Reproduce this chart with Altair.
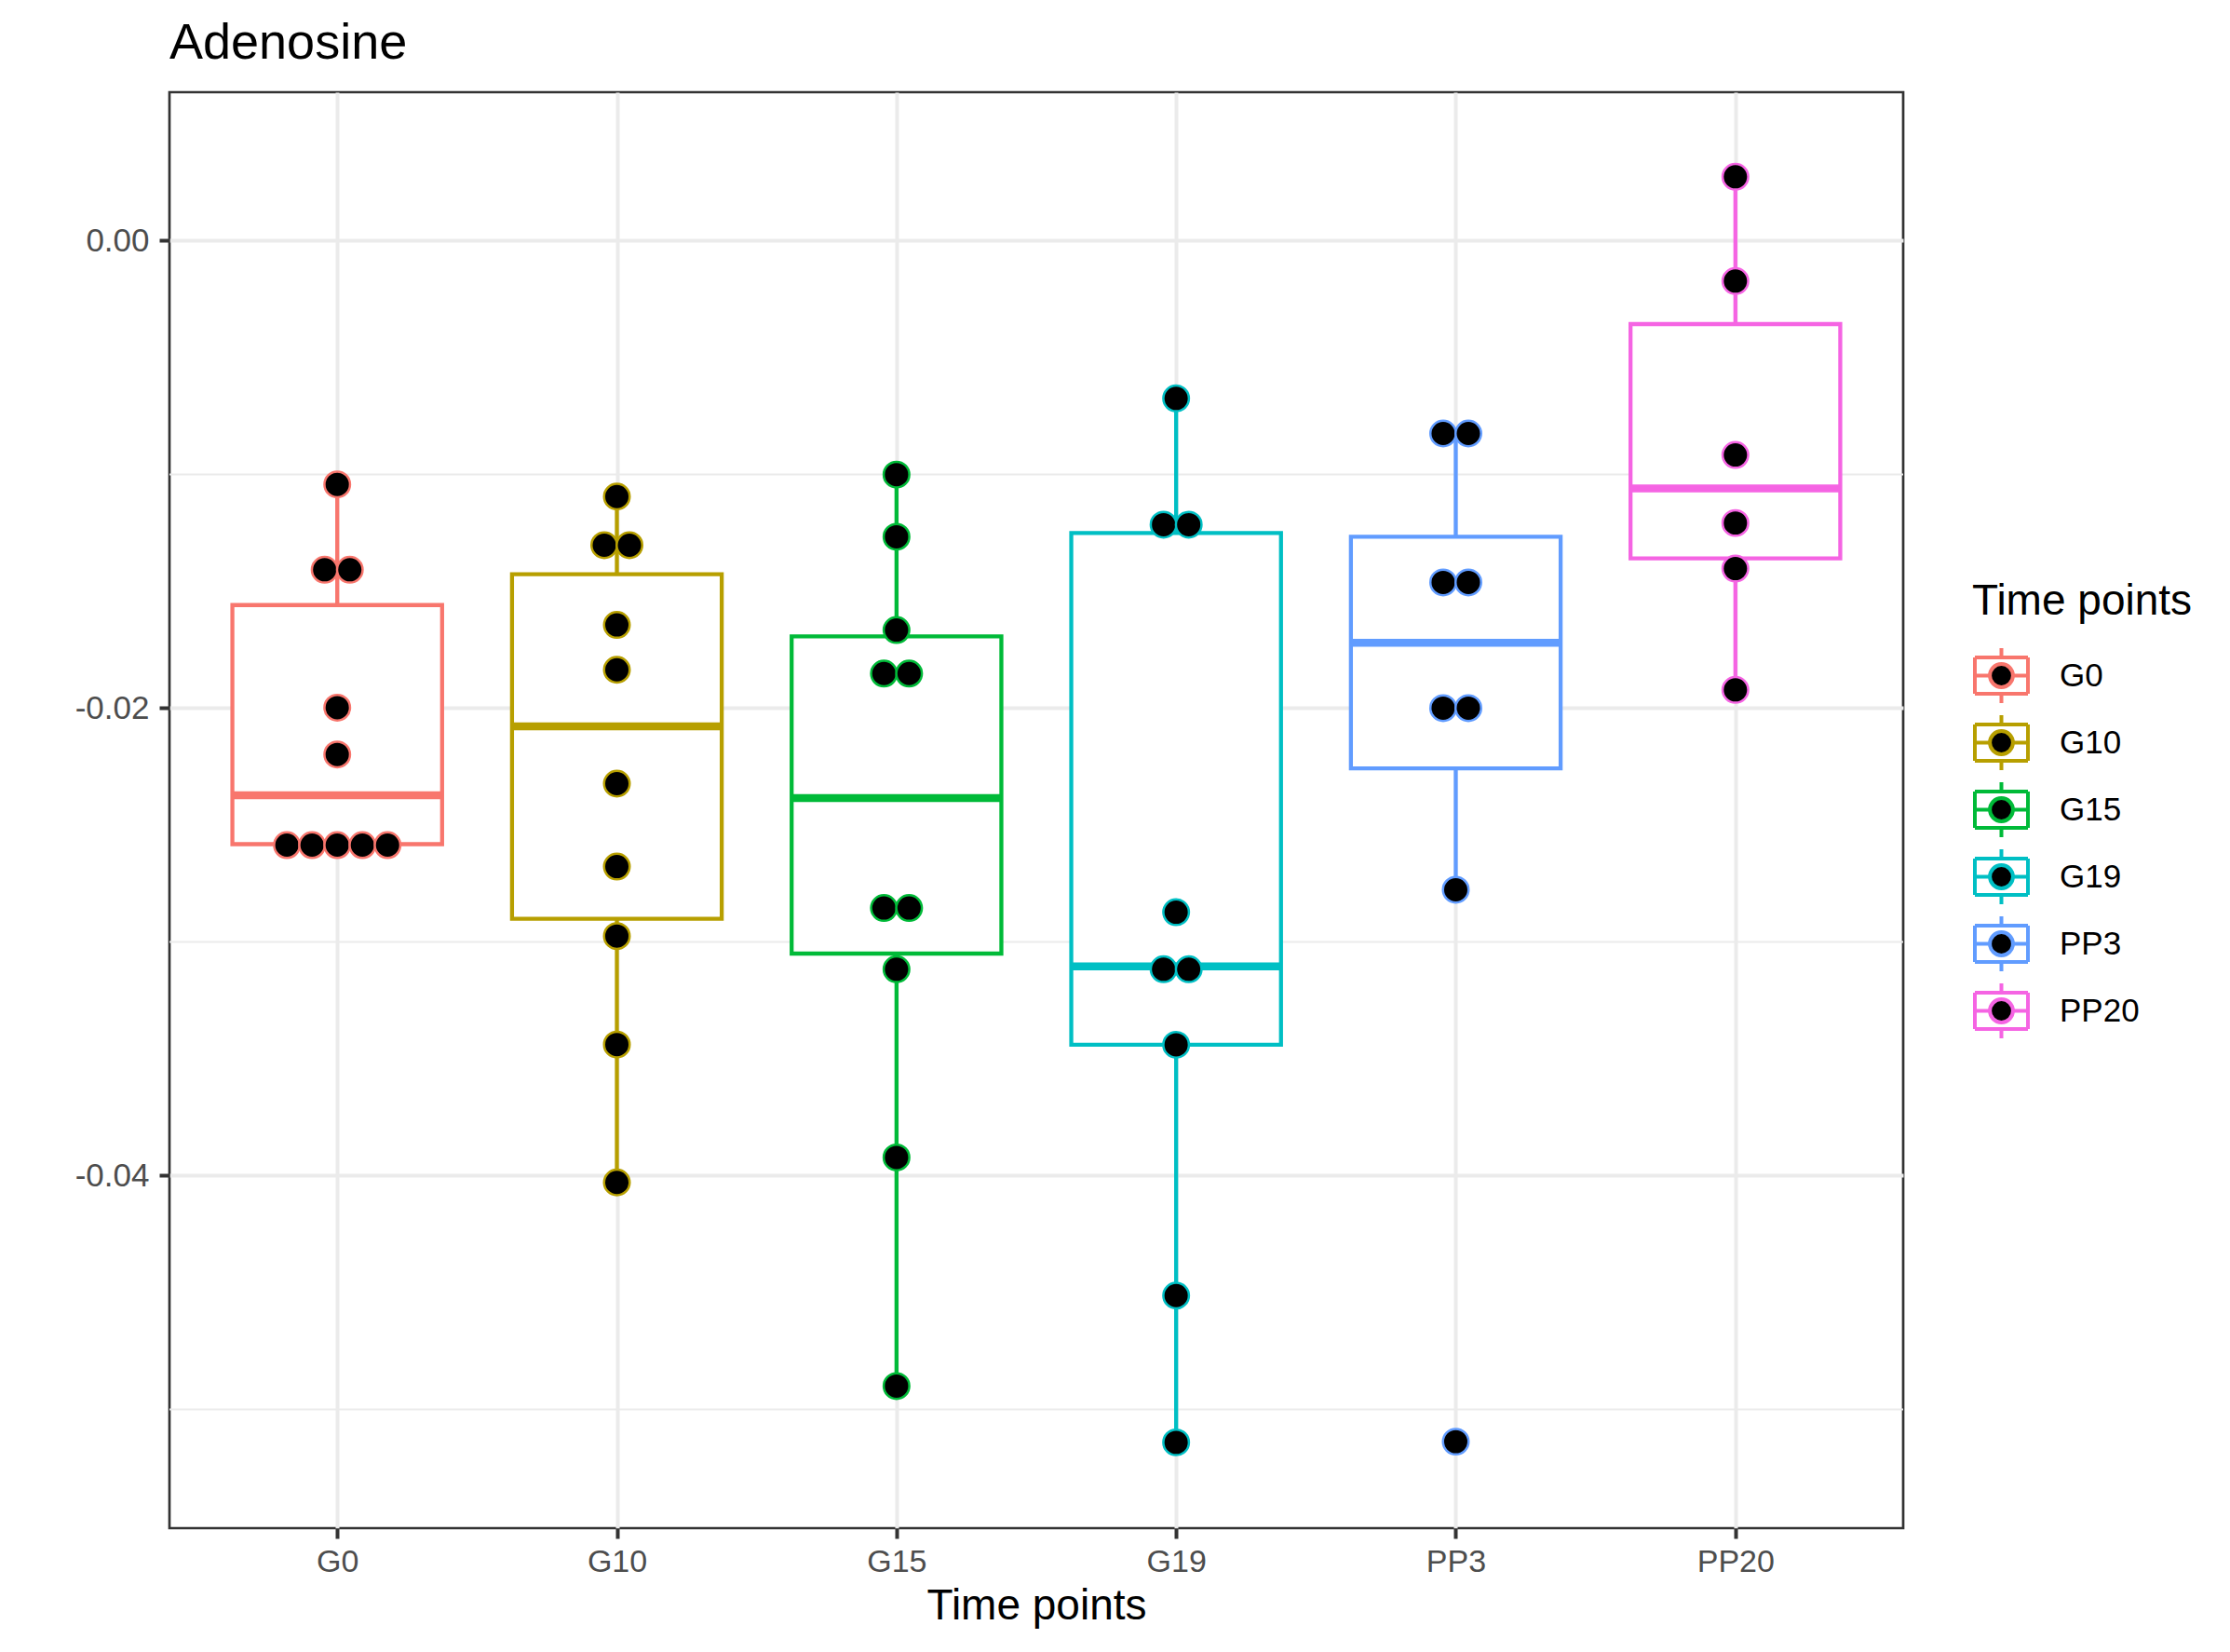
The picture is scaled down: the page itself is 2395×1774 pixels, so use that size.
import json
import altair as alt
import pandas as pd

# ---------------- data ----------------
categories = ["G0", "G10", "G15", "G19", "PP3", "PP20"]
colors = ["#F8766D", "#B79F00", "#00BA38", "#00BFC4", "#619CFF", "#F564E3"]

g0_values = [-0.01043, -0.01408, -0.01408, -0.01998, -0.02198,
             -0.02586, -0.02586, -0.02586, -0.02586, -0.02586]
g10_values = [-0.01095, -0.01303, -0.01303, -0.01644, -0.01836,
              -0.02323, -0.02678, -0.02975, -0.03439, -0.04029]
g15_values = [-0.01001, -0.01267, -0.01666, -0.01852, -0.01852,
              -0.02855, -0.02855, -0.03117, -0.03922, -0.04900]
g19_values = [-0.00675, -0.01215, -0.01215, -0.02873, -0.03117,
              -0.03117, -0.03440, -0.04513, -0.05141]
pp3_values = [-0.00825, -0.00825, -0.01462, -0.01462, -0.02000,
              -0.02000, -0.02777, -0.05138]
pp20_values = [0.00273, -0.00173, -0.00917, -0.01208, -0.01403, -0.01922]

box_q1 = [-0.02582, -0.02901, -0.03050, -0.03440, -0.02258, -0.01359]
box_median = [-0.02373, -0.02078, -0.02385, -0.03105, -0.01720, -0.01060]
box_q3 = [-0.01559, -0.01427, -0.01693, -0.01251, -0.01267, -0.00357]
whisker_low = [-0.02582, -0.04029, -0.04900, -0.05141, -0.02777, -0.01922]
whisker_high = [-0.01043, -0.01095, -0.01001, -0.00675, -0.00825, 0.00273]

major_ticks = [-0.04, -0.02, 0.0]
minor_grid = [-0.05, -0.03, -0.01]

# ---------------- tables ----------------
all_values = [g0_values, g10_values, g15_values, g19_values, pp3_values, pp20_values]
rows = []
for i, (cat, vals) in enumerate(zip(categories, all_values)):
    for v in vals:
        rows.append({"tp": cat, "idx": i, "value": v})
points_df = pd.DataFrame(rows)

stats_df = pd.DataFrame({
    "tp": categories,
    "idx": list(range(len(categories))),
    "q1": box_q1, "med": box_median, "q3": box_q3,
    "lo": whisker_low, "hi": whisker_high,
})
minor_df = pd.DataFrame({"y": minor_grid})

FONT = "Liberation Sans"

y_scale = alt.Scale(domain=[-0.05508, 0.00635], nice=False, zero=False)
x_scale = alt.Scale(domain=[-0.6, len(categories) - 0.4], nice=False, zero=False)
stroke_scale = alt.Scale(domain=categories, range=colors)

x_axis = alt.Axis(
    values=list(range(len(categories))),
    labelExpr=json.dumps(categories) + "[datum.value]",
    title="Time points",
    grid=True, gridColor="#EBEBEB", gridWidth=4,
    domain=False, ticks=True, tickSize=11, tickWidth=4, tickColor="#333333",
    labelFontSize=34, labelColor="#4D4D4D", labelPadding=8, labelFont=FONT,
    titleFontSize=46, titleColor="black", titleFontWeight="normal",
    titlePadding=8, titleFont=FONT,
)
y_axis = alt.Axis(
    values=major_ticks,
    labelExpr="datum.value == 0 ? '0.00' : '-' + format(abs(datum.value), '.2f')",
    title=None,
    grid=True, gridColor="#EBEBEB", gridWidth=4,
    domain=False, ticks=True, tickSize=11, tickWidth=4, tickColor="#333333",
    labelFontSize=35, labelColor="#4D4D4D", labelPadding=11, labelFont=FONT,
)

legend_symbol = (
    "M -0.966 -0.66 L 0.966 -0.66 "
    "M 0.966 -0.66 L 0.966 0.66 "
    "M 0.966 0.66 L -0.966 0.66 "
    "M -0.966 0.66 L -0.966 -0.66 "
    "M 0 -1 L 0 -0.66 M 0 0.66 L 0 1 "
    "M -0.966 0 L -0.44 0 M 0.44 0 L 0.966 0 "
    "M 0.42 0 A 0.42 0.42 0 1 1 -0.42 0 A 0.42 0.42 0 1 1 0.42 0 Z"
)

legend = alt.Legend(
    title="Time points", orient="none", legendX=1936, legendY=525,
    symbolType=legend_symbol, symbolSize=3481, symbolStrokeWidth=4,
    symbolFillColor="black", symbolOpacity=1,
    titleFontSize=46, titleFontWeight="normal", titleColor="black", titleFont=FONT,
    titleLimit=600, labelLimit=400,
    labelFontSize=35, labelColor="black", labelFont=FONT, labelOffset=31,
    rowPadding=-3, titlePadding=24, padding=0,
)

# ---------------- layers ----------------
minor = alt.Chart(minor_df).mark_rule(color="#EBEBEB", strokeWidth=2).encode(
    y=alt.Y("y:Q", scale=y_scale, axis=y_axis),
)

stats = alt.Chart(stats_df).transform_calculate(
    xl="datum.idx - 0.375", xr="datum.idx + 0.375"
)

whiskers = stats.mark_rule(strokeWidth=4.3).encode(
    x=alt.X("idx:Q", scale=x_scale, axis=x_axis),
    y=alt.Y("lo:Q", scale=y_scale, axis=y_axis),
    y2="hi:Q",
    stroke=alt.Stroke("tp:N", scale=stroke_scale, legend=None),
)

boxes = stats.mark_bar(fill="white", strokeWidth=4.3, strokeJoin="miter").encode(
    x=alt.X("xl:Q", scale=x_scale, axis=x_axis),
    x2="xr:Q",
    y=alt.Y("q1:Q", scale=y_scale, axis=y_axis),
    y2="q3:Q",
    stroke=alt.Stroke("tp:N", scale=stroke_scale, legend=None),
)

medians = stats.mark_rule(strokeWidth=8.5, strokeCap="butt").encode(
    x=alt.X("xl:Q", scale=x_scale, axis=x_axis),
    x2="xr:Q",
    y=alt.Y("med:Q", scale=y_scale, axis=y_axis),
    stroke=alt.Stroke("tp:N", scale=stroke_scale, legend=None),
)

dots = alt.Chart(points_df).transform_window(
    rank="row_number()", groupby=["tp", "value"]
).transform_joinaggregate(
    n="count()", groupby=["tp", "value"]
).transform_calculate(
    xp="datum.idx + (datum.rank - (datum.n + 1) / 2) * 0.09"
).mark_point(filled=True, fill="black", size=756, strokeWidth=2.5, opacity=1).encode(
    x=alt.X("xp:Q", scale=x_scale, axis=x_axis),
    y=alt.Y("value:Q", scale=y_scale, axis=y_axis),
    stroke=alt.Stroke("tp:N", scale=stroke_scale, legend=legend),
)

chart = alt.layer(minor, whiskers, boxes, medians, dots).resolve_scale(
    stroke="independent"
).properties(
    width=1862,
    height=1542,
    autosize=alt.AutoSizeParams(type="none"),
    padding={"left": 174, "top": 91, "right": 343, "bottom": 125},
    title=alt.Title(
        "Adenosine", anchor="start", fontSize=54, fontWeight="normal",
        color="black", font=FONT, offset=25, baseline="alphabetic", frame="group",
        dy=43,
    ),
).configure(
    font=FONT, background="white"
).configure_view(
    stroke="#333333", strokeWidth=2.7
)

chart.save("out.html", embed_options={"renderer": "svg", "actions": False})
